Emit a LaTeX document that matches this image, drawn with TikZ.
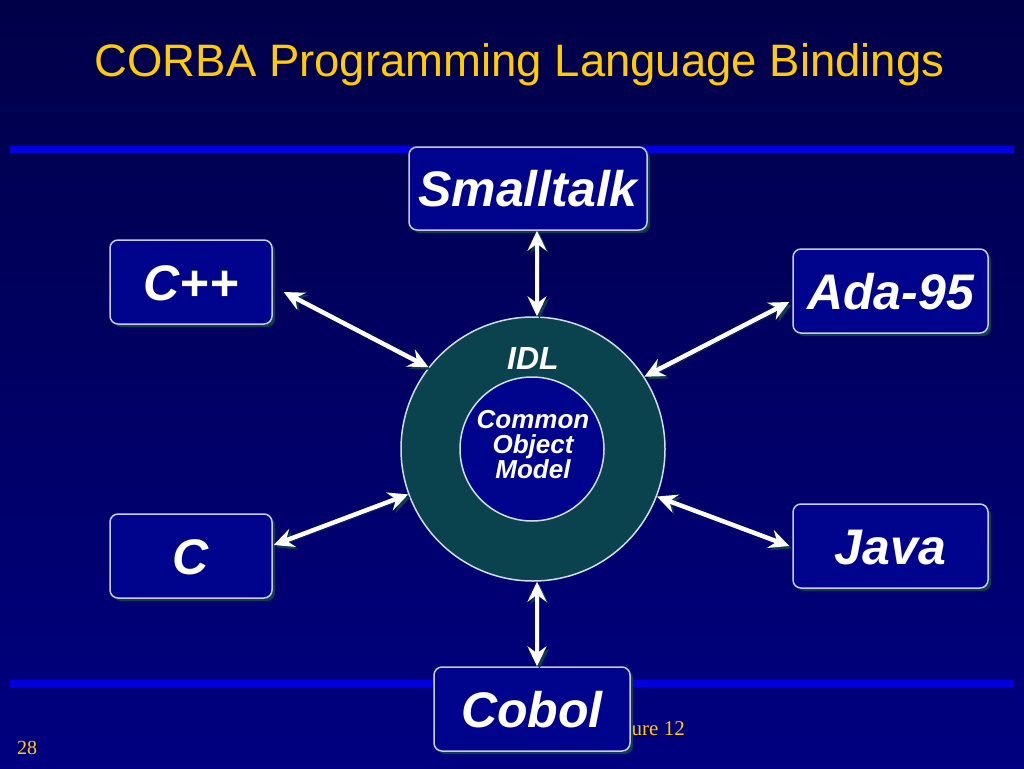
\documentclass[tikz,border=0pt]{standalone}
\usepackage{fontspec}
\setmainfont{Liberation Sans}
\newfontfamily\timesfont{Liberation Serif}
\usetikzlibrary{arrows.meta}
\definecolor{bgtop}{RGB}{0,0,72}
\definecolor{bgbottom}{RGB}{0,0,128}
\definecolor{titleyellow}{RGB}{255,204,0}
\definecolor{barblue}{RGB}{0,0,225}
\definecolor{boxblue}{RGB}{0,4,140}
\definecolor{boxedge}{RGB}{200,204,232}
\definecolor{shadowteal}{RGB}{14,62,78}
\definecolor{ringteal}{RGB}{10,66,78}
\definecolor{ringedge}{RGB}{205,225,225}

\begin{document}
\begin{tikzpicture}[x=1pt, y=-1pt,
    lang/.style={draw=boxedge, line width=1.5pt, fill=boxblue, rounded corners=8pt,
        text=white, font=\bfseries\itshape\fontsize{50}{50}\selectfont,
        text height=36pt, text depth=0pt, inner sep=0pt,
        preaction={fill=shadowteal, transform canvas={shift={(3pt,-3pt)}}}},
    link/.style={white, line width=4.5pt, <->,
        >={Stealth[length=20pt, width=19pt, inset=7pt]},
        preaction={draw=shadowteal, transform canvas={shift={(2.5pt,-2.5pt)}}}}]
    % Nền
    \useasboundingbox (0,0) rectangle (1024,768);
    \shade[top color=bgtop, bottom color=bgbottom] (0,0) rectangle (1024,768);
    
    % Tiêu đề và hai đường kẻ
    \node[anchor=base, text=titleyellow, font=\fontsize{45.5}{54}\selectfont] (title) at (519.5,77) {CORBA Programming Language Bindings};
    \draw[barblue, line width=7pt] (10,149) -- (1014,149);
    \draw[barblue, line width=7pt] (10,683) -- (1014,683);
    
    % Chân trang
    \node[anchor=base west, text=titleyellow, font=\timesfont\fontsize{20}{24}\selectfont, inner sep=0pt] (page) at (17,754) {28};
    \node[anchor=base east, text=titleyellow, font=\timesfont\fontsize{21}{24}\selectfont, inner sep=0pt] (foot) at (685,735) {ure 12};
    
    % Vòng tròn IDL
    \node[circle, minimum size=264pt, inner sep=0pt, fill=ringteal, draw=ringedge, line width=1.5pt] (ring) at (533,449) {};
    \node[circle, minimum size=144pt, inner sep=0pt, fill=boxblue, draw=ringedge, line width=1.5pt] (core) at (532,449) {};
    \node[text=white, font=\bfseries\itshape\fontsize{32}{36}\selectfont] (idl) at (533,358.5) {IDL};
    \node[text=white, align=center, font=\bfseries\itshape\fontsize{26}{25}\selectfont] (com) at (533,445) {Common\\Object\\Model};
    
    % Các hộp ngôn ngữ
    \node[lang, minimum width=238pt, minimum height=83pt] (small) at (528,188.5) {Smalltalk};
    \node[lang, minimum width=162pt, minimum height=84pt] (cpp) at (191,282) {C++};
    \node[lang, minimum width=195pt, minimum height=84pt] (ada) at (890.5,291) {Ada-95};
    \node[lang, minimum width=162pt, minimum height=84pt] (c) at (191,556) {C};
    \node[lang, minimum width=195pt, minimum height=84pt] (java) at (890.5,546) {Java};
    \node[lang, minimum width=196pt, minimum height=84pt] (cobol) at (532,709) {Cobol};
    
    % Mũi tên hai chiều
    \draw[link] ([xshift=9pt]small.south) -- ([xshift=4pt]ring.north);
    \draw[link] ([shift={(11,10)}]cpp.east) -- (ring.142);
    \draw[link] (ring.33) -- ([shift={(-3,11)}]ada.west);
    \draw[link] ([shift={(1,-11)}]c.east) -- (ring.200);
    \draw[link] (ring.-21) -- ([shift={(-3,0)}]java.west);
    \draw[link] ([xshift=4pt]ring.south) -- ([xshift=5pt]cobol.north);
\end{tikzpicture}
\end{document}
